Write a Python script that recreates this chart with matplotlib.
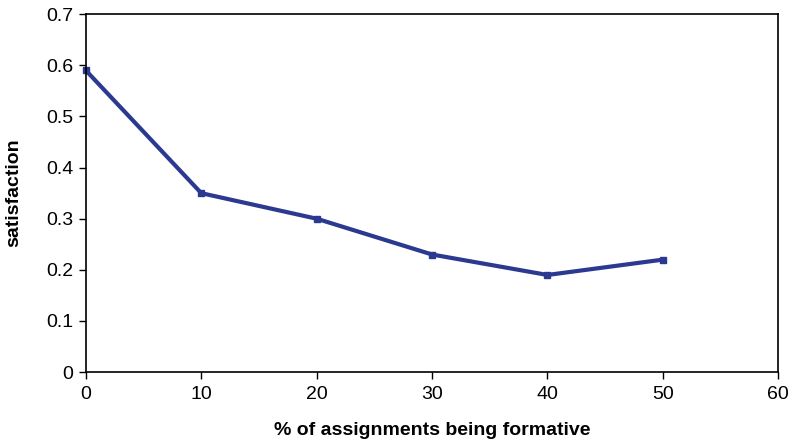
import matplotlib
matplotlib.use('Agg')
import matplotlib.pyplot as plt

# data
pct_formative = [0, 10, 20, 30, 40, 50]
satisfaction = [0.59, 0.35, 0.30, 0.23, 0.19, 0.22]

plt.rcParams['font.family'] = ['Liberation Sans', 'DejaVu Sans']

fig = plt.figure(figsize=(7.95, 4.43), dpi=100)
ax = fig.add_axes([0.108, 0.160, 0.871, 0.808])

ax.plot(pct_formative, satisfaction, color='#2B3990', linewidth=3,
        marker='s', markersize=4, clip_on=False)

ax.set_xlim(0, 60)
ax.set_ylim(0, 0.7)
ax.set_xticks(range(0, 61, 10))
ax.set_yticks([i / 10 for i in range(8)])
ax.set_yticklabels(['0'] + [f'{i / 10:.1f}' for i in range(1, 8)])

for s in ax.spines.values():
    s.set_linewidth(1.2)
    s.set_color('black')
ax.tick_params(direction='out', length=5, width=1, labelsize=14)
ax.tick_params(axis='y', pad=4)
ax.tick_params(axis='x', pad=5)

ax.set_xlabel('% of assignments being formative', fontsize=14, fontweight='bold', labelpad=14)
ax.set_ylabel('satisfaction', fontsize=14, fontweight='bold', labelpad=17)

fig.savefig('out.png', dpi=100)
